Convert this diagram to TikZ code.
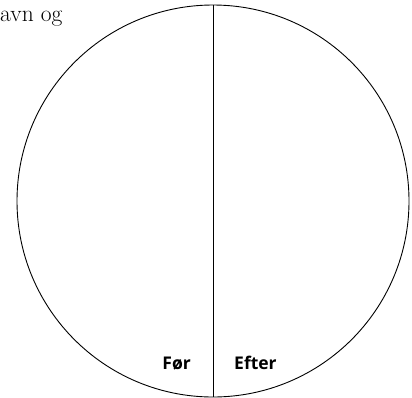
\documentclass[tikz,border=0pt]{standalone}
\usepackage{fontspec}
\newfontfamily\labfont{Open Sans}
\begin{document}
\begin{tikzpicture}[x=1pt,y=-1pt,
  lab/.style={font=\labfont\bfseries\fontsize{17.5}{20}\selectfont, inner sep=0pt},
  ring/.style={draw, circle, line width=0.9pt, minimum size=392pt, inner sep=0pt}]
\useasboundingbox (0,0) rectangle (412,397);
\node[ring] (c) at (213,201) {};
\draw[line width=0.9pt] (c.north) -- (c.south);
\node[anchor=base west, inner sep=0pt, font=\fontsize{23.5}{28}\selectfont] (t) at (0,21) {avn og};
\node[lab, anchor=base east] (f) at (191,369) {Før};
\node[lab, anchor=base west] (e) at (234,369) {Efter};
\end{tikzpicture}
\end{document}
